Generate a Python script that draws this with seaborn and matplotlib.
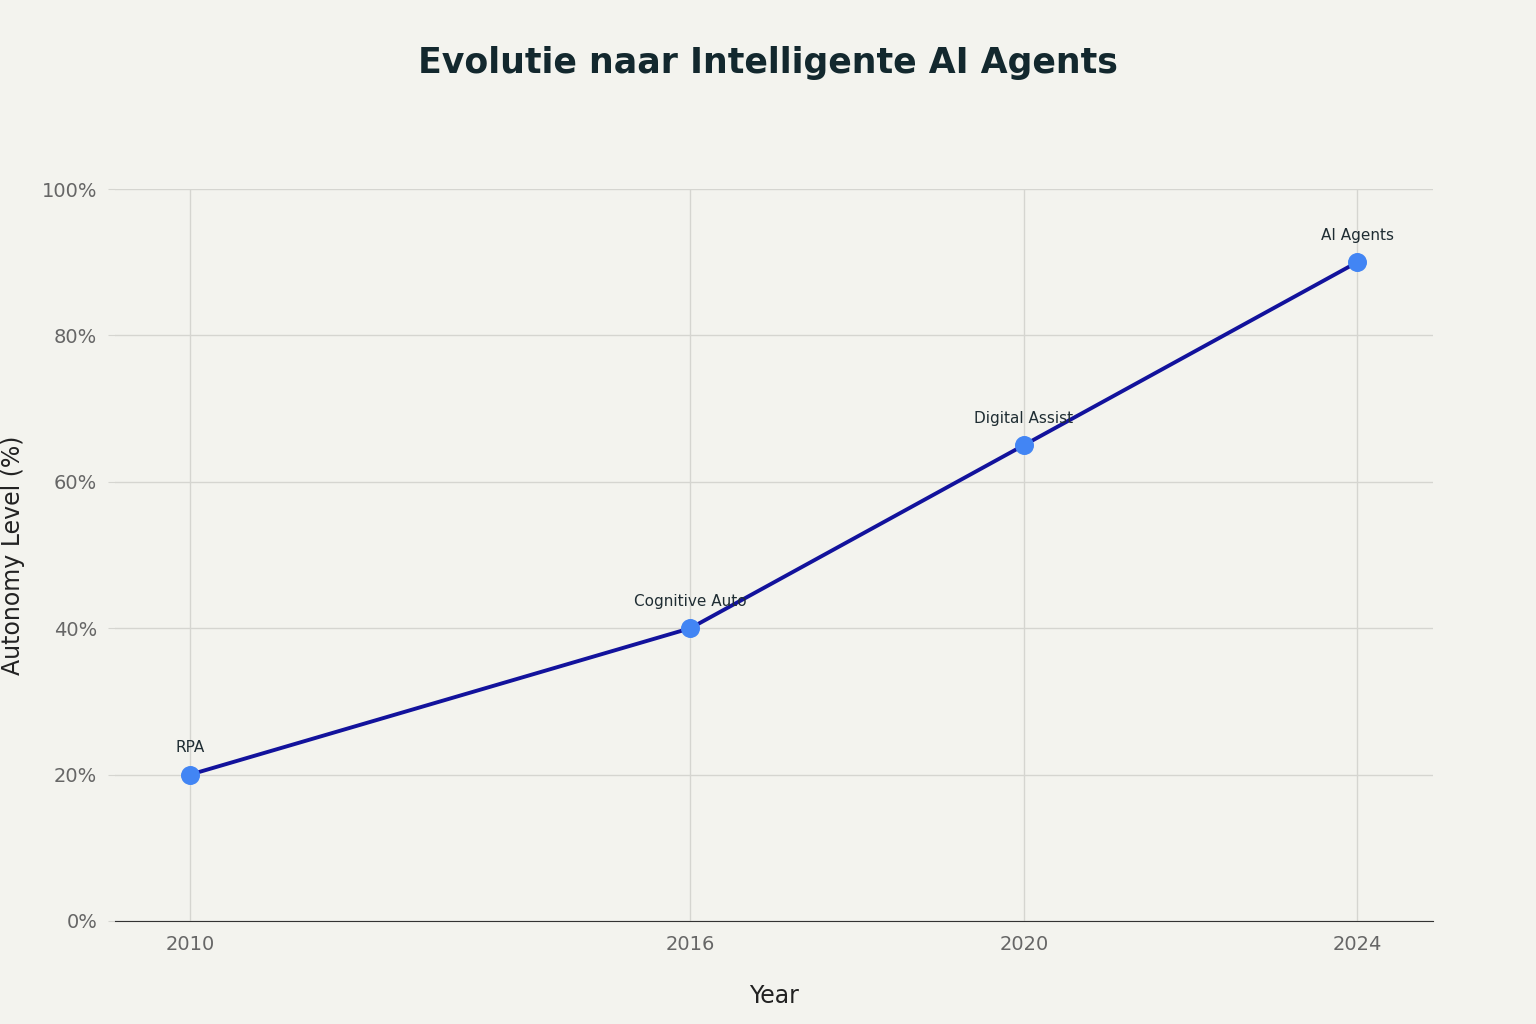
import matplotlib
matplotlib.use("Agg")
import matplotlib.pyplot as plt
import seaborn as sns
import pandas as pd
from matplotlib.ticker import FuncFormatter

years = [2010, 2016, 2020, 2024]
autonomy = [20, 40, 65, 90]
labels = ["RPA", "Cognitive Auto", "Digital Assist", "AI Agents"]

df = pd.DataFrame({"Year": years, "Autonomy": autonomy, "Label": labels})

bg = "#F3F3EE"
fig = plt.figure(figsize=(15.36, 10.24), dpi=100, facecolor=bg)
ax = fig.add_axes([0.075, 0.1006, 0.858, 0.7148], facecolor=bg)

sns.lineplot(data=df, x="Year", y="Autonomy", ax=ax, color="#12129C", linewidth=2.8, zorder=3)
sns.scatterplot(data=df, x="Year", y="Autonomy", ax=ax, color="#4285F4", s=160, edgecolor="#4285F4", zorder=4)

for x, y, t in zip(years, autonomy, labels):
    ax.annotate(t, (x, y), xytext=(0, 14), textcoords="offset points", ha="center",
                va="bottom", fontsize=11, color="#1F2D33", family="DejaVu Sans")

ax.set_xlim(2009.1, 2024.91)
ax.set_ylim(0, 100)
ax.set_xticks(years)
ax.set_yticks(range(0, 101, 20))
ax.yaxis.set_major_formatter(FuncFormatter(lambda v, p: f"{int(v)}%"))
ax.grid(True, color="#D5D5D0", linewidth=1)
ax.set_axisbelow(True)
for s in ["top", "right", "left"]:
    ax.spines[s].set_visible(False)
ax.spines["bottom"].set_color("#333333")
ax.tick_params(axis="both", labelsize=14, labelcolor="#666666", length=0, pad=10)
ax.tick_params(axis="y", length=5, color="#D5D5D0", pad=8)
ax.set_xlabel("Year", fontsize=17, color="#222222", labelpad=22)
ax.set_ylabel("Autonomy Level (%)", fontsize=17, color="#222222", labelpad=12)
fig.text(0.5, 0.938, "Evolutie naar Intelligente AI Agents", ha="center", va="center",
         fontsize=25, fontweight="bold", color="#13282E")

fig.savefig("out.png", dpi=100, facecolor=bg)
